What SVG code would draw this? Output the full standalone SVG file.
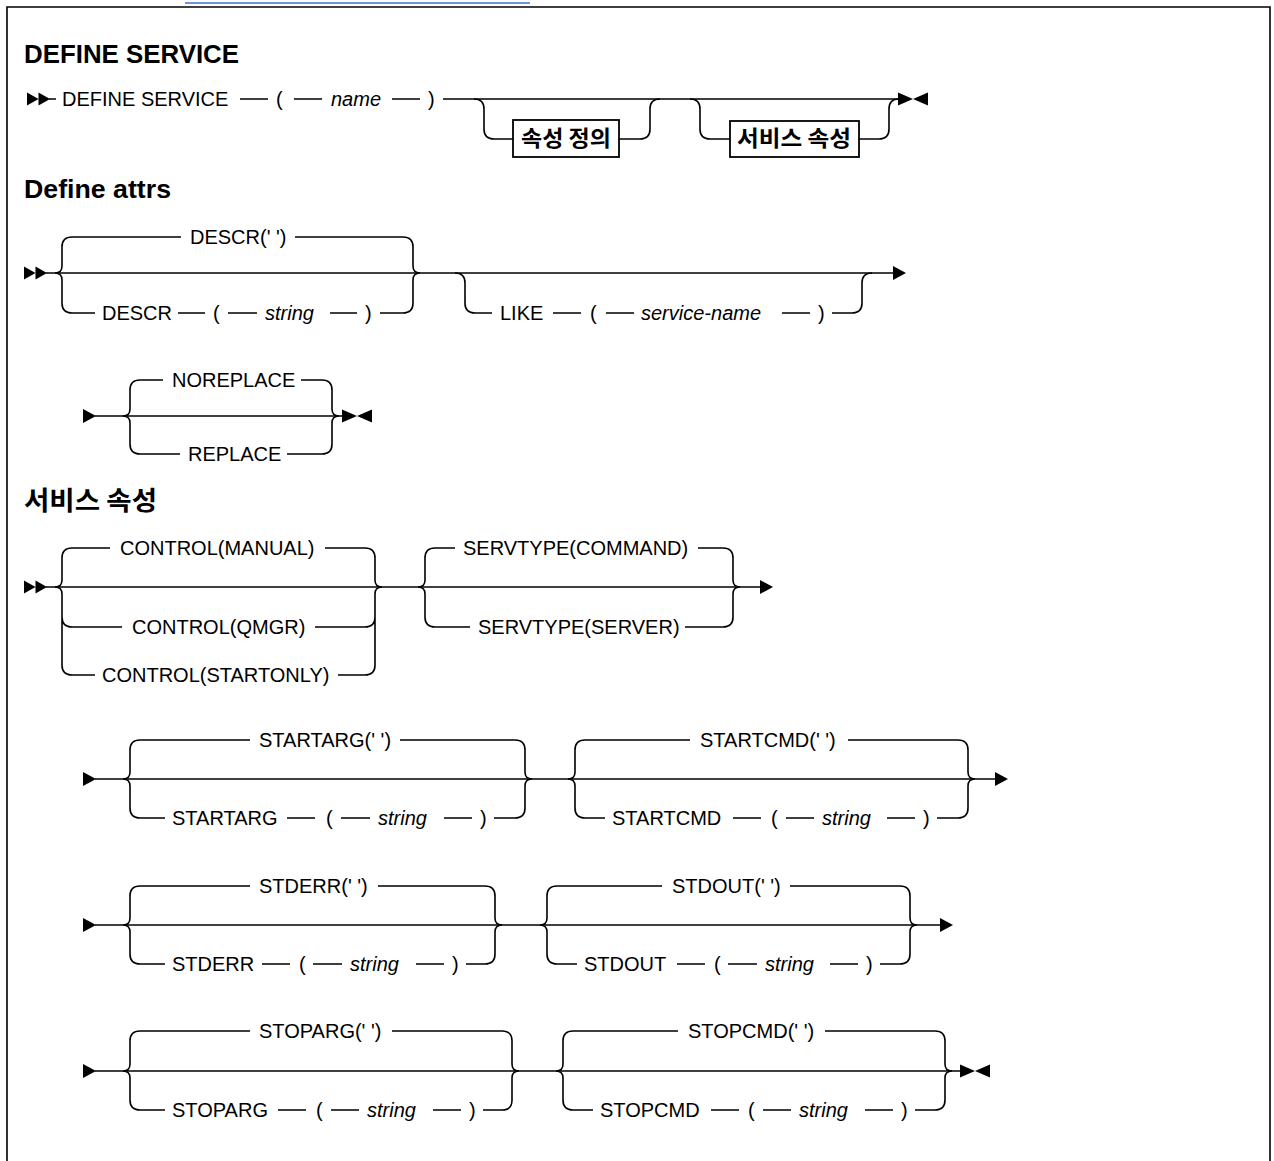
<svg xmlns="http://www.w3.org/2000/svg" xmlns:xlink="http://www.w3.org/1999/xlink" width="1274" height="1161" viewBox="0 0 1274 1161">
<style>
.t{font-family:"Liberation Sans",Arial,sans-serif;font-size:20px;fill:#000}
.i{font-style:italic}
.h{font-family:"Liberation Sans",Arial,sans-serif;font-weight:bold;font-size:25px;fill:#000}
.k{font-family:"Noto Sans CJK KR","Noto Sans",sans-serif;font-weight:bold;fill:#000}
.l{fill:none;stroke:#000;stroke-width:1.6}
.b{fill:#fff;stroke:#000;stroke-width:1.8}
.m{fill:#000}
</style>
<defs>
<path id="s2" class="m" d="M0,-6.5 L11.5,0 L0,6.5Z M11.5,-6.5 L23,0 L11.5,6.5Z"/>
<path id="s1" class="m" d="M0,-7 L13,0 L0,7Z"/>
<path id="e2" class="m" d="M0,-6.5 L15,0 L0,6.5Z M30,-6.5 L15,0 L30,6.5Z"/>
</defs>
<rect width="1274" height="1161" fill="#fff"/>
<line x1="185" y1="3" x2="530" y2="3" stroke="#3b6fd6" stroke-width="1.5"/>
<path class="l" stroke-width="2" d="M7,1161 L7,7 L1270,7 L1270,1161"/>

<g id="title1"><text class="h" x="24" y="63" textLength="215" lengthAdjust="spacingAndGlyphs">DEFINE SERVICE</text></g>

<g id="connectors">
<!-- line 1 -->
<path class="l" d="M49,99 L56,99 M240,99 L268,99 M294,99 L322,99 M392,99 L420,99 M443,99 L898,99"/>
<path class="l" d="M474,99 Q484,99 484,109 L484,129 Q484,139 494,139 L513,139 M619,139 L640,139 Q650,139 650,129 L650,109 Q650,99 660,99"/>
<path class="l" d="M690,99 Q700,99 700,109 L700,129 Q700,139 710,139 L730,139 M859,139 L879,139 Q889,139 889,129 L889,109 Q889,99 899,99"/>
<!-- define attrs -->
<path class="l" d="M46,273 L893,273"/>
<path class="l" d="M72,237 Q62,237 62,247 L62,266 Q62,273 55,273 Q62,273 62,280 L62,303 Q62,313 72,313"/>
<path class="l" d="M403,237 Q413,237 413,247 L413,266 Q413,273 420,273 Q413,273 413,280 L413,303 Q413,313 403,313"/>
<path class="l" d="M72,237 L181,237 M295,237 L403,237 M72,313 L95,313 M178,313 L205,313 M228,313 L257,313 M330,313 L357,313 M380,313 L403,313"/>
<path class="l" d="M455,273 Q465,273 465,283 L465,303 Q465,313 475,313 L492,313 M553,313 L581,313 M606,313 L634,313 M782,313 L810,313 M832,313 L852,313 Q862,313 862,303 L862,283 Q862,273 872,273"/>
<!-- replace -->
<path class="l" d="M95,416 L342,416"/>
<path class="l" d="M140,380 Q130,380 130,390 L130,409 Q130,416 123,416 Q130,416 130,423 L130,444 Q130,454 140,454"/>
<path class="l" d="M322,380 Q332,380 332,390 L332,409 Q332,416 339,416 Q332,416 332,423 L332,444 Q332,454 322,454"/>
<path class="l" d="M140,380 L163,380 M301,380 L322,380 M140,454 L180,454 M287,454 L322,454"/>
<!-- control -->
<path class="l" d="M46,587 L760,587"/>
<path class="l" d="M72,548 Q62,548 62,558 L62,580 Q62,587 55,587 Q62,587 62,594 L62,665 Q62,675 72,675 M62,617 Q62,627 72,627"/>
<path class="l" d="M365,548 Q375,548 375,558 L375,580 Q375,587 382,587 Q375,587 375,594 L375,665 Q375,675 365,675 M375,617 Q375,627 365,627"/>
<path class="l" d="M72,548 L110,548 M325,548 L365,548 M72,627 L122,627 M315,627 L365,627 M72,675 L95,675 M338,675 L365,675"/>
<path class="l" d="M435,548 Q425,548 425,558 L425,580 Q425,587 418,587 Q425,587 425,594 L425,617 Q425,627 435,627"/>
<path class="l" d="M723,548 Q733,548 733,558 L733,580 Q733,587 740,587 Q733,587 733,594 L733,617 Q733,627 723,627"/>
<path class="l" d="M435,548 L455,548 M698,548 L723,548 M435,627 L470,627 M685,627 L723,627"/>
<!-- startarg / startcmd -->
<path class="l" d="M95,779 L995,779"/>
<path class="l" d="M140,740 Q130,740 130,750 L130,772 Q130,779 123,779 Q130,779 130,786 L130,808 Q130,818 140,818"/>
<path class="l" d="M515,740 Q525,740 525,750 L525,772 Q525,779 532,779 Q525,779 525,786 L525,808 Q525,818 515,818"/>
<path class="l" d="M140,740 L250,740 M400,740 L515,740 M140,818 L165,818 M287,818 L315,818 M341,818 L370,818 M444,818 L472,818 M494,818 L515,818"/>
<path class="l" d="M585,740 Q575,740 575,750 L575,772 Q575,779 568,779 Q575,779 575,786 L575,808 Q575,818 585,818"/>
<path class="l" d="M958,740 Q968,740 968,750 L968,772 Q968,779 975,779 Q968,779 968,786 L968,808 Q968,818 958,818"/>
<path class="l" d="M585,740 L690,740 M848,740 L958,740 M585,818 L605,818 M733,818 L761,818 M786,818 L814,818 M887,818 L915,818 M937,818 L958,818"/>
<!-- stderr / stdout -->
<path class="l" d="M95,925 L940,925"/>
<path class="l" d="M140,886 Q130,886 130,896 L130,918 Q130,925 123,925 Q130,925 130,932 L130,954 Q130,964 140,964"/>
<path class="l" d="M485,886 Q495,886 495,896 L495,918 Q495,925 502,925 Q495,925 495,932 L495,954 Q495,964 485,964"/>
<path class="l" d="M140,886 L250,886 M378,886 L485,886 M140,964 L165,964 M262,964 L290,964 M313,964 L342,964 M416,964 L444,964 M466,964 L485,964"/>
<path class="l" d="M557,886 Q547,886 547,896 L547,918 Q547,925 540,925 Q547,925 547,932 L547,954 Q547,964 557,964"/>
<path class="l" d="M900,886 Q910,886 910,896 L910,918 Q910,925 917,925 Q910,925 910,932 L910,954 Q910,964 900,964"/>
<path class="l" d="M557,886 L662,886 M790,886 L900,886 M557,964 L577,964 M677,964 L705,964 M728,964 L757,964 M830,964 L858,964 M880,964 L900,964"/>
<!-- stoparg / stopcmd -->
<path class="l" d="M95,1071 L960,1071"/>
<path class="l" d="M140,1031 Q130,1031 130,1041 L130,1064 Q130,1071 123,1071 Q130,1071 130,1078 L130,1100 Q130,1110 140,1110"/>
<path class="l" d="M502,1031 Q512,1031 512,1041 L512,1064 Q512,1071 519,1071 Q512,1071 512,1078 L512,1100 Q512,1110 502,1110"/>
<path class="l" d="M140,1031 L250,1031 M392,1031 L502,1031 M140,1110 L165,1110 M278,1110 L306,1110 M331,1110 L359,1110 M433,1110 L461,1110 M483,1110 L502,1110"/>
<path class="l" d="M573,1031 Q563,1031 563,1041 L563,1064 Q563,1071 556,1071 Q563,1071 563,1078 L563,1100 Q563,1110 573,1110"/>
<path class="l" d="M935,1031 Q945,1031 945,1041 L945,1064 Q945,1071 952,1071 Q945,1071 945,1078 L945,1100 Q945,1110 935,1110"/>
<path class="l" d="M573,1031 L678,1031 M825,1031 L935,1031 M573,1110 L593,1110 M711,1110 L739,1110 M763,1110 L791,1110 M865,1110 L893,1110 M915,1110 L935,1110"/>
</g>

<g id="marks">
<use href="#s2" x="27" y="99"/>
<use href="#e2" x="898" y="99"/>
<use href="#s2" x="24" y="273"/>
<use href="#s1" x="893" y="273"/>
<use href="#s1" x="83" y="416"/>
<use href="#e2" x="342" y="416"/>
<use href="#s2" x="24" y="587"/>
<use href="#s1" x="760" y="587"/>
<use href="#s1" x="83" y="779"/>
<use href="#s1" x="995" y="779"/>
<use href="#s1" x="83" y="925"/>
<use href="#s1" x="940" y="925"/>
<use href="#s1" x="83" y="1071"/>
<use href="#e2" x="960" y="1071"/>
</g>

<g id="define-service">
<text class="t" x="62" y="106">DEFINE SERVICE</text>
<text class="t" x="276" y="106">(</text>
<text class="t i" x="331" y="106">name</text>
<text class="t" x="428" y="106">)</text>
</g>
<g id="box-define-attrs">
<rect class="b" x="513" y="120" width="106" height="37"/>
<text class="k" x="521" y="146" font-size="22" textLength="90" lengthAdjust="spacingAndGlyphs">속성 정의</text>
</g>
<g id="box-service-attrs">
<rect class="b" x="730" y="121" width="129" height="36"/>
<text class="k" x="737" y="146" font-size="22" textLength="114" lengthAdjust="spacingAndGlyphs">서비스 속성</text>
</g>

<g id="title2"><text class="h" x="24" y="198" textLength="147" lengthAdjust="spacingAndGlyphs">Define attrs</text></g>
<g id="descr">
<text class="t" x="190" y="244">DESCR(' ')</text>
<text class="t" x="102" y="320">DESCR</text>
<text class="t" x="213" y="320">(</text>
<text class="t i" x="265" y="320">string</text>
<text class="t" x="365" y="320">)</text>
</g>
<g id="like">
<text class="t" x="500" y="320">LIKE</text>
<text class="t" x="590" y="320">(</text>
<text class="t i" x="641" y="320">service-name</text>
<text class="t" x="818" y="320">)</text>
</g>
<g id="replace">
<text class="t" x="172" y="387">NOREPLACE</text>
<text class="t" x="188" y="461">REPLACE</text>
</g>

<g id="title3"><text class="k" x="24" y="510" font-size="26" textLength="133" lengthAdjust="spacingAndGlyphs">서비스 속성</text></g>
<g id="control">
<text class="t" x="120" y="555">CONTROL(MANUAL)</text>
<text class="t" x="132" y="634">CONTROL(QMGR)</text>
<text class="t" x="102" y="682">CONTROL(STARTONLY)</text>
</g>
<g id="servtype">
<text class="t" x="463" y="555">SERVTYPE(COMMAND)</text>
<text class="t" x="478" y="634">SERVTYPE(SERVER)</text>
</g>
<g id="startarg">
<text class="t" x="259" y="747">STARTARG(' ')</text>
<text class="t" x="172" y="825">STARTARG</text>
<text class="t" x="326" y="825">(</text>
<text class="t i" x="378" y="825">string</text>
<text class="t" x="480" y="825">)</text>
</g>
<g id="startcmd">
<text class="t" x="700" y="747">STARTCMD(' ')</text>
<text class="t" x="612" y="825">STARTCMD</text>
<text class="t" x="771" y="825">(</text>
<text class="t i" x="822" y="825">string</text>
<text class="t" x="923" y="825">)</text>
</g>
<g id="stderr">
<text class="t" x="259" y="893">STDERR(' ')</text>
<text class="t" x="172" y="971">STDERR</text>
<text class="t" x="299" y="971">(</text>
<text class="t i" x="350" y="971">string</text>
<text class="t" x="452" y="971">)</text>
</g>
<g id="stdout">
<text class="t" x="672" y="893">STDOUT(' ')</text>
<text class="t" x="584" y="971">STDOUT</text>
<text class="t" x="714" y="971">(</text>
<text class="t i" x="765" y="971">string</text>
<text class="t" x="866" y="971">)</text>
</g>
<g id="stoparg">
<text class="t" x="259" y="1038">STOPARG(' ')</text>
<text class="t" x="172" y="1117">STOPARG</text>
<text class="t" x="316" y="1117">(</text>
<text class="t i" x="367" y="1117">string</text>
<text class="t" x="469" y="1117">)</text>
</g>
<g id="stopcmd">
<text class="t" x="688" y="1038">STOPCMD(' ')</text>
<text class="t" x="600" y="1117">STOPCMD</text>
<text class="t" x="748" y="1117">(</text>
<text class="t i" x="799" y="1117">string</text>
<text class="t" x="901" y="1117">)</text>
</g>
</svg>
